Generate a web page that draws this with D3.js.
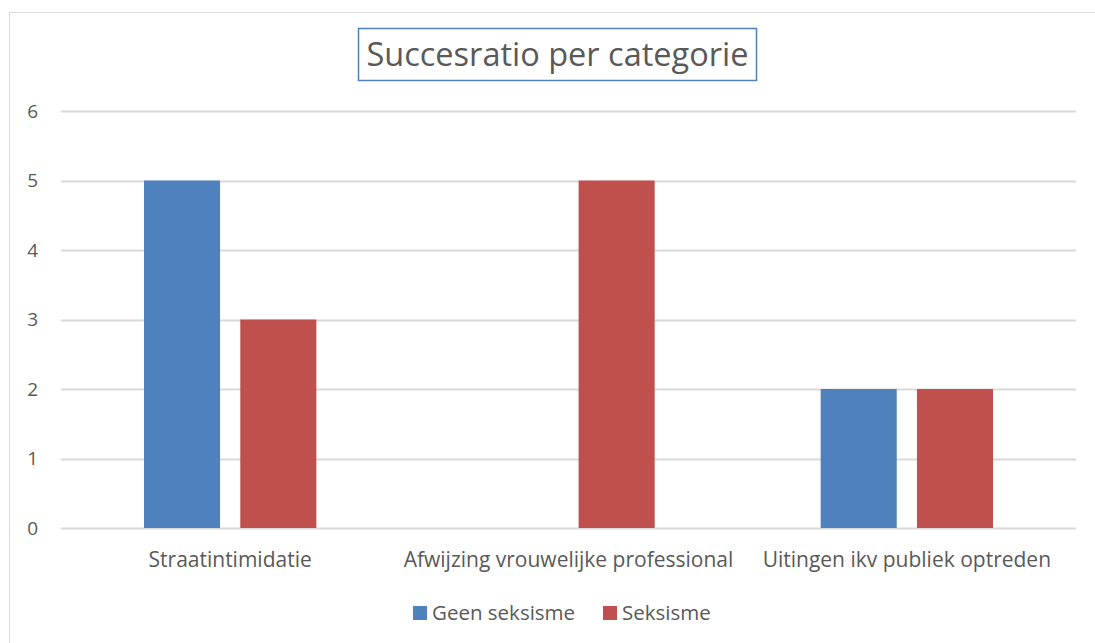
<!DOCTYPE html>
<html>
<head>
<meta charset="utf-8">
<script src="https://cdn.jsdelivr.net/npm/d3@7"></script>
<style>
  body { margin: 0; background: #fff; }
  svg { display: block; font-family: "Open Sans", "Noto Sans", sans-serif; }
</style>
</head>
<body>
<svg id="chart" width="1095" height="643"></svg>
<script>
// data
const categories = ["Straatintimidatie", "Afwijzing vrouwelijke professional", "Uitingen ikv publiek optreden"];
const seriesNames = ["Geen seksisme", "Seksisme"];
const geenSeksisme = [5, 0, 2];
const seksisme = [3, 5, 2];
const yTicks = [0, 1, 2, 3, 4, 5, 6];

const colors = ["#4f81bd", "#c0504d"];
const textColor = "#595959";

const svg = d3.select("#chart");
const margin = {top: 111, right: 19, bottom: 115, left: 61};
const width = 1095, height = 643;

// chart area border
svg.append("rect")
  .attr("x", 9.5).attr("y", 12.5)
  .attr("width", 1100).attr("height", 700)
  .attr("fill", "none").attr("stroke", "#d9d9d9").attr("stroke-width", 1);

const x0 = d3.scaleBand().domain(categories)
  .range([margin.left, width - margin.right]);
const groupPad = 83;
const x1 = d3.scaleBand().domain(seriesNames)
  .range([groupPad, x0.bandwidth() - groupPad]).paddingInner(0.21);
const y = d3.scaleLinear().domain([0, 6]).range([height - margin.bottom, margin.top]);

// gridlines
svg.append("g").selectAll("line").data(yTicks).join("line")
  .attr("x1", margin.left).attr("x2", width - margin.right)
  .attr("y1", d => Math.round(y(d)) + 0.5).attr("y2", d => Math.round(y(d)) + 0.5)
  .attr("stroke", "#d9d9d9").attr("stroke-width", 2);

// y tick labels
svg.append("g").selectAll("text").data(yTicks).join("text")
  .attr("x", 38).attr("y", d => y(d))
  .attr("dy", "0.35em").attr("text-anchor", "end")
  .attr("fill", textColor).style("font-size", "19px")
  .text(d => d);

// bars
const rows = categories.map((c, i) => ({cat: c, values: [geenSeksisme[i], seksisme[i]]}));
svg.append("g").selectAll("g").data(rows).join("g")
  .attr("transform", d => `translate(${x0(d.cat)},0)`)
  .selectAll("rect")
  .data(d => d.values.map((v, j) => ({name: seriesNames[j], value: v, j})))
  .join("rect")
  .attr("x", d => x1(d.name))
  .attr("width", x1.bandwidth())
  .attr("y", d => y(d.value))
  .attr("height", d => y(0) - y(d.value))
  .attr("fill", d => colors[d.j]);

// category labels
svg.append("g").selectAll("text").data(categories).join("text")
  .attr("x", d => x0(d) + x0.bandwidth() / 2)
  .attr("y", 560).attr("dy", "0.35em")
  .attr("text-anchor", "middle")
  .attr("fill", textColor).style("font-size", "21px")
  .text(d => d);

// title with box
svg.append("rect")
  .attr("x", 358.5).attr("y", 28.5).attr("width", 398).attr("height", 52)
  .attr("fill", "#fff").attr("stroke", "#4f81bd").attr("stroke-width", 1.5);
svg.append("text")
  .attr("x", 557.5).attr("y", 55).attr("dy", "0.35em")
  .attr("text-anchor", "middle")
  .attr("fill", textColor).style("font-size", "32.5px")
  .text("Succesratio per categorie");

// legend
const legend = svg.append("g");
const legendX = [413, 603];
seriesNames.forEach((name, i) => {
  legend.append("rect")
    .attr("x", legendX[i]).attr("y", 606).attr("width", 14).attr("height", 14)
    .attr("fill", colors[i]);
  legend.append("text")
    .attr("x", legendX[i] + 19).attr("y", 613).attr("dy", "0.35em")
    .attr("fill", textColor).style("font-size", "20.5px")
    .text(name);
});
</script>
</body>
</html>
